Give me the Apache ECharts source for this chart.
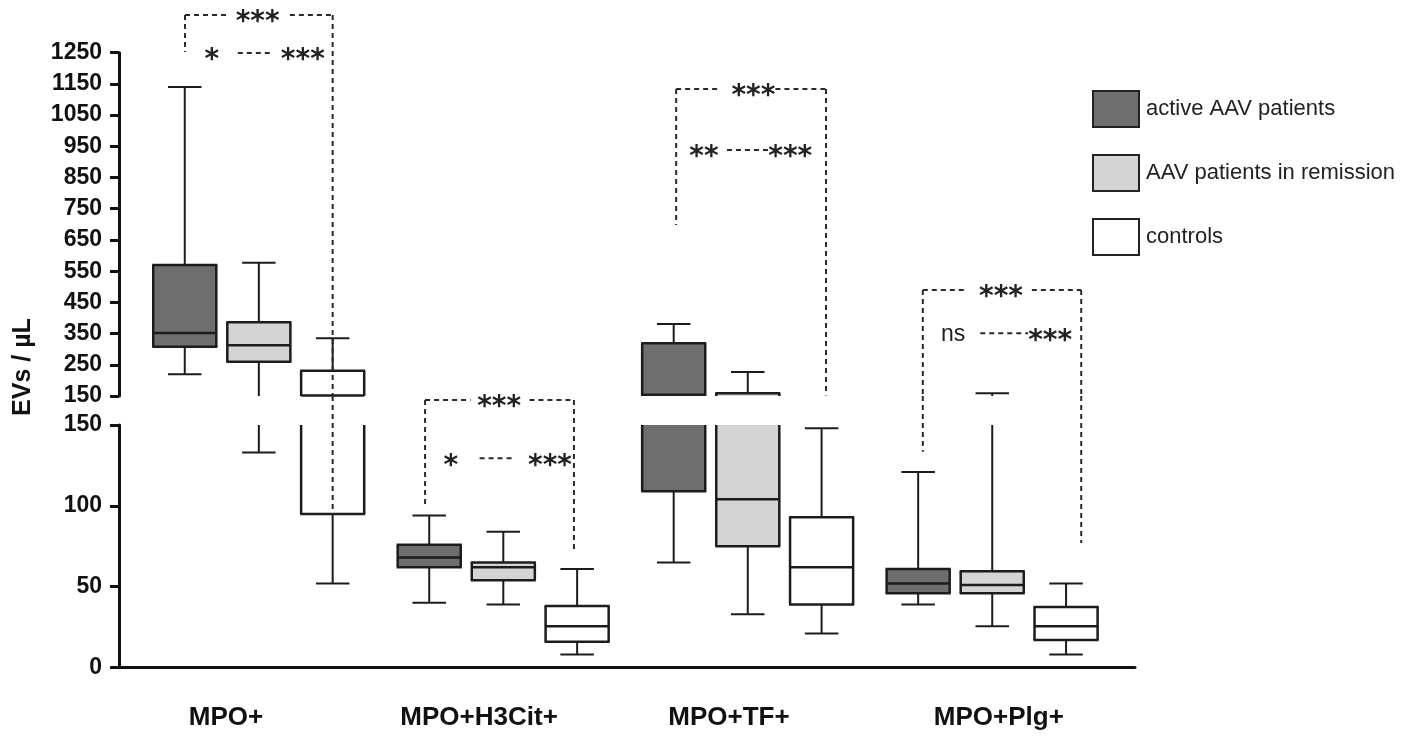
<!DOCTYPE html>
<html>
<head>
<meta charset="utf-8">
<script src="https://cdn.jsdelivr.net/npm/echarts@6/dist/echarts.min.js"></script>
<style>
  html, body { margin: 0; padding: 0; background: #ffffff; }
  #chart { width: 1418px; height: 743px; }
</style>
</head>
<body>
<div id="chart"></div>
<script>
// ---------------- data ----------------
const categories = ['MPO+', 'MPO+H3Cit+', 'MPO+TF+', 'MPO+Plg+'];
const groupNames = ['active AAV patients', 'AAV patients in remission', 'controls'];
// each box: [min, Q1, median, Q3, max]  (EVs / µL)
const activeBox    = [[220, 308, 352, 570, 1140], [40, 62, 68, 76, 94], [65, 109, 154, 319, 381], [39, 46, 52, 61, 121]];
const remissionBox = [[133, 260, 313, 386, 577], [39, 54, 62, 65, 84], [33, 75, 104, 159, 227], [25.5, 46, 51, 59.5, 159]];
const controlBox   = [[52, 95, 152, 231, 335], [8, 16, 25.5, 38, 61], [21, 39, 62, 93, 148], [8, 17, 25.5, 37.5, 52]];
// broken y axis: upper and lower segments
const upperRange = { min: 150, max: 1250, interval: 100 };
const lowerRange = { min: 0, max: 150, interval: 50 };
// significance brackets: [x1, seg1, v1, x2, seg2, v2]  (seg 0 = upper axis, 1 = lower axis)
const sigLines = [
  [-0.302, 0, 1371, -0.127, 0, 1371], [0.127, 0, 1371, 0.302, 0, 1371],
  [-0.302, 0, 1371, -0.302, 0, 1252], [0.302, 0, 1371, 0.302, 1, 95],
  [-0.086, 0, 1249, 0.049, 0, 1249],
  [0.680, 1, 165.4, 0.866, 1, 165.4], [1.107, 1, 165.4, 1.289, 1, 165.4],
  [0.680, 1, 165.4, 0.680, 1, 101.2], [1.289, 1, 165.4, 1.289, 1, 72.8],
  [0.903, 1, 129.4, 1.050, 1, 129.4],
  [1.707, 0, 1134, 1.888, 0, 1134], [2.113, 0, 1134, 2.320, 0, 1134],
  [1.707, 0, 1134, 1.707, 0, 698], [2.320, 0, 1134, 2.320, 0, 152],
  [1.915, 0, 938, 2.092, 0, 938],
  [2.716, 0, 490, 2.899, 0, 490], [3.162, 0, 490, 3.364, 0, 490],
  [2.716, 0, 490, 2.716, 1, 133.5], [3.364, 0, 490, 3.364, 1, 77],
  [2.951, 0, 351, 3.147, 0, 351]
];
// significance labels: [text, x, seg, v]
const sigTexts = [
  ['***', -0.005, 0, 1371], ['*', -0.192, 0, 1249], ['***', 0.180, 0, 1249],
  ['***', 0.983, 1, 165.4], ['*', 0.785, 1, 129.4], ['***', 1.191, 1, 129.4],
  ['***', 2.023, 0, 1134], ['**', 1.821, 0, 938], ['***', 2.174, 0, 938],
  ['***', 3.036, 0, 490], ['ns', 2.840, 0, 351], ['***', 3.237, 0, 351]
];

// ---------------- layout / style ----------------
const AXIS_LEFT = 119, AXIS_RIGHT = 1135;
const UPPER_TOP = 52.7, UPPER_BOTTOM = 396, LOWER_TOP = 425, LOWER_BOTTOM = 667.5;
const GAP = LOWER_TOP - UPPER_BOTTOM;
const FILLS = ['#6e6e6e', '#d4d4d4', '#ffffff'];
const STROKE = '#1c1c1c';
const OFFS = [-0.303, 0, 0.302];
const BOX_W = 0.258, CAP_W = 0.137;
const LABEL_POS = [-0.134, 0.901, 1.923, 3.027]; // where the category names sit along the x axis
const ranges = [upperRange, lowerRange];
const boxes = [activeBox, remissionBox, controlBox];

function boxSeries(g, seg) {
  const rg = ranges[seg];
  return {
    type: 'custom', name: groupNames[g], xAxisIndex: seg, yAxisIndex: seg, z: 2,
    itemStyle: { color: FILLS[g], borderColor: STROKE, borderWidth: 2 },
    data: boxes[g].map((b, i) => [i].concat(b)),
    encode: { x: 0, y: [1, 2, 3, 4, 5] },
    renderItem: function (params, api) {
      const cat = api.value(0) + OFFS[g];
      const mn = api.value(1), q1 = api.value(2), md = api.value(3), q3 = api.value(4), mx = api.value(5);
      const lo = rg.min, hi = rg.max;
      const cl = v => Math.min(hi, Math.max(lo, v));
      const X = api.coord([cat, lo])[0];
      const Y = v => api.coord([cat, v])[1];
      const hw = api.size([BOX_W, 0])[0] / 2, cw = api.size([CAP_W, 0])[0] / 2;
      const ch = [];
      const line = (x1, y1, x2, y2, w) => ch.push({ type: 'line', shape: { x1, y1, x2, y2 }, style: { stroke: STROKE, lineWidth: w } });
      if (mx > lo && q3 < hi) line(X, Y(cl(q3)), X, Y(cl(mx)), 2);
      if (q1 > lo && mn < hi) line(X, Y(cl(mn)), X, Y(cl(q1)), 2);
      if (mx >= lo && mx <= hi) line(X - cw, Y(mx), X + cw, Y(mx), 2);
      if (mn >= lo && mn <= hi) line(X - cw, Y(mn), X + cw, Y(mn), 2);
      if (q3 > lo && q1 < hi) {
        const yt = Y(cl(q3)), yb = Y(cl(q1));
        ch.push({ type: 'rect', shape: { x: X - hw, y: yt, width: 2 * hw, height: yb - yt }, style: { fill: FILLS[g] } });
        line(X - hw, yt, X - hw, yb, 2.5);
        line(X + hw, yt, X + hw, yb, 2.5);
        if (q3 <= hi) line(X - hw - 1, yt, X + hw + 1, yt, 2.5);
        if (q1 >= lo) line(X - hw - 1, yb, X + hw + 1, yb, 2.5);
      }
      if (md >= lo && md <= hi) line(X - hw, Y(md), X + hw, Y(md), 2.5);
      return { type: 'group', children: ch };
    }
  };
}

function sigLineSeries(seg) {
  return {
    type: 'custom', xAxisIndex: seg, yAxisIndex: seg, z: 5, silent: true,
    data: sigLines.map(l => [l[0], l[2], l[3], l[5]]),
    encode: { x: 0, y: 1 },
    renderItem: function (params, api) {
      const l = sigLines[params.dataIndex];
      const x1 = l[0], s1 = l[1], v1 = l[2], x2 = l[3], s2 = l[4], v2 = l[5];
      let p1, p2;
      if (s1 === seg && s2 === seg) { p1 = api.coord([x1, v1]); p2 = api.coord([x2, v2]); }
      else if (s1 !== s2) {
        if (seg === 0) { p1 = api.coord([x1, v1]); p2 = api.coord([x2, ranges[0].min]); }
        else { const t = api.coord([x2, ranges[1].max]); p1 = [t[0], t[1] - GAP]; p2 = api.coord([x2, v2]); }
      } else return { type: 'group', children: [] };
      return { type: 'line', shape: { x1: p1[0], y1: p1[1], x2: p2[0], y2: p2[1] },
        style: { stroke: '#2a2a2a', lineWidth: 2, lineDash: [5, 4] } };
    }
  };
}

function sigTextSeries(seg) {
  return {
    type: 'custom', xAxisIndex: seg, yAxisIndex: seg, z: 6, silent: true,
    data: sigTexts.map(t => [t[1], t[3]]),
    encode: { x: 0, y: 1 },
    renderItem: function (params, api) {
      const t = sigTexts[params.dataIndex];
      if (t[2] !== seg) return { type: 'group', children: [] };
      const p = api.coord([t[1], t[3]]);
      const star = t[0].indexOf('*') >= 0;
      return { type: 'text', x: p[0], y: p[1] + (star ? 8 : 1),
        style: { text: t[0], fill: '#222', align: 'center', verticalAlign: 'middle',
          font: star ? 'bold 28px "DejaVu Sans"' : '23px "Liberation Sans"' } };
    }
  };
}

const yAxisCommon = {
  type: 'value',
  axisLine: { show: true, onZero: false, lineStyle: { color: '#111', width: 3 } },
  axisTick: { show: true, length: 9, lineStyle: { color: '#111', width: 3 } },
  axisLabel: { fontSize: 23, fontWeight: 'bold', fontFamily: 'Liberation Sans', color: '#111', margin: 17,
    formatter: v => String(v) },
  splitLine: { show: false }
};

const series = [];
for (let seg = 0; seg < 2; seg++) for (let g = 0; g < 3; g++) series.push(boxSeries(g, seg));
series.push(sigLineSeries(0), sigLineSeries(1), sigTextSeries(0), sigTextSeries(1));

const chart = echarts.init(document.getElementById('chart'), null, { renderer: 'canvas' });
chart.setOption({
  animation: false,
  backgroundColor: '#ffffff',
  grid: [
    { left: AXIS_LEFT, right: 1418 - AXIS_RIGHT, top: UPPER_TOP, height: UPPER_BOTTOM - UPPER_TOP },
    { left: AXIS_LEFT, right: 1418 - AXIS_RIGHT, top: LOWER_TOP, height: LOWER_BOTTOM - LOWER_TOP }
  ],
  xAxis: [
    { type: 'value', gridIndex: 0, min: -0.572, max: 3.584, show: false },
    { type: 'value', gridIndex: 1, min: -0.572, max: 3.584,
      axisLine: { show: true, onZero: false, lineStyle: { color: '#111', width: 3 } },
      axisTick: { show: false }, splitLine: { show: false },
      axisLabel: { customValues: LABEL_POS, formatter: v => categories[Math.round(v)] || '',
        fontSize: 26, fontWeight: 'bold', fontFamily: 'Liberation Sans', color: '#111', margin: 37 } }
  ],
  yAxis: [
    Object.assign({}, yAxisCommon, { gridIndex: 0, min: upperRange.min, max: upperRange.max, interval: upperRange.interval }),
    Object.assign({}, yAxisCommon, { gridIndex: 1, min: lowerRange.min, max: lowerRange.max, interval: lowerRange.interval })
  ],
  legend: {
    orient: 'vertical', left: 1087, top: 85, itemWidth: 46, itemHeight: 36, itemGap: 26,
    icon: 'rect', selectedMode: false,
    textStyle: { fontSize: 22, color: '#222', fontFamily: 'Liberation Sans', padding: [0, 0, 0, 2] },
    data: groupNames.map((n, i) => ({ name: n, itemStyle: { color: FILLS[i], borderColor: '#222', borderWidth: 2 } }))
  },
  graphic: [
    { type: 'text', x: 23, y: 367, rotation: Math.PI / 2,
      style: { text: 'EVs / µL', font: 'bold 25px "Liberation Sans"', fill: '#111', align: 'center', verticalAlign: 'middle' } }
  ],
  series: series
});
</script>
</body>
</html>
